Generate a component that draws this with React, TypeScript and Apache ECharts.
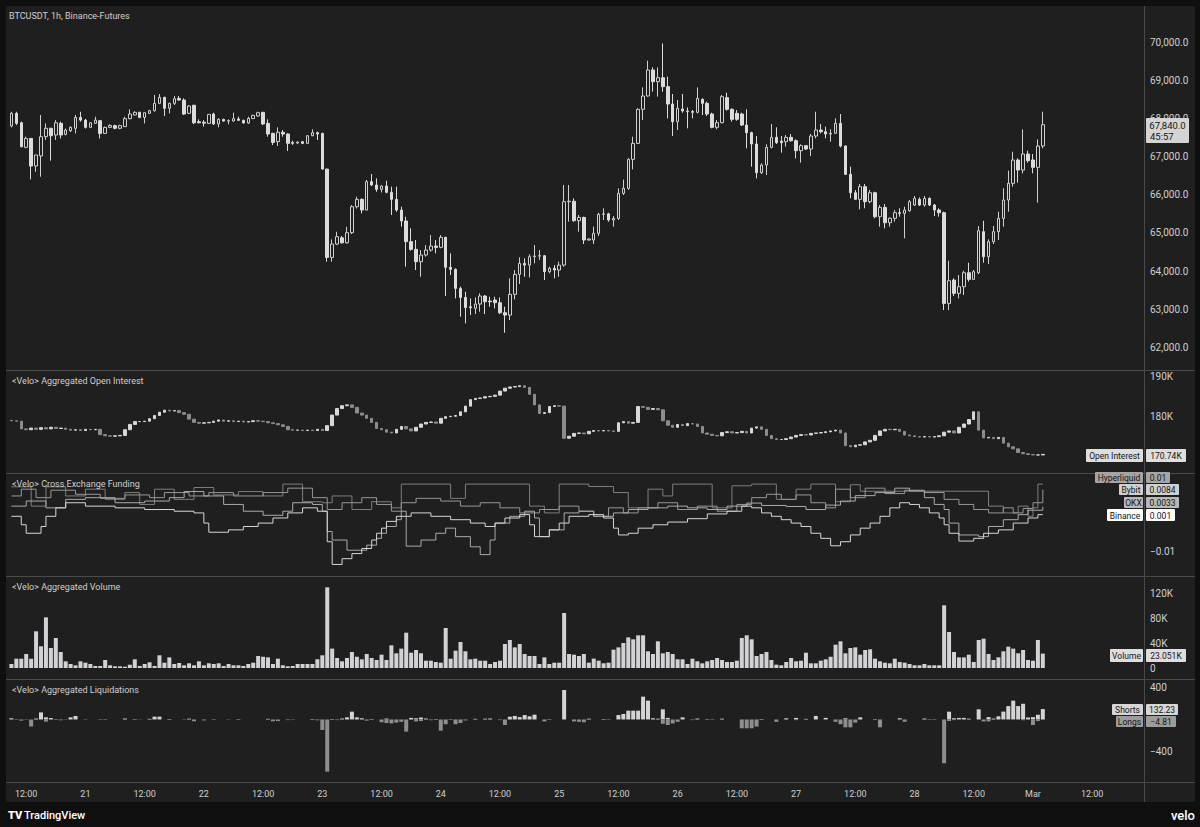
import React, { useEffect, useRef } from "react";
import * as echarts from "echarts";

// ---------- time slots (category 0 = Feb 20 08:00 UTC, 1 hour each) ----------
const START_UTC = Date.UTC(2026, 1, 20, 8, 0);
const SLOT_COUNT = 231;
const MONTHS = ["Jan", "Feb", "Mar", "Apr", "May", "Jun", "Jul", "Aug", "Sep", "Oct", "Nov", "Dec"];

// ---------- price candles, slot 1..210: [open, close, low, high] ----------
const priceOHLC = [
  [67805, 68138, 67770, 68180], [68138, 67875, 67830, 68180], [67890, 67262, 67245, 67920], [67245, 67480, 67220, 67525],
  [67480, 66755, 66405, 67480], [66755, 67045, 66605, 67045], [67020, 67525, 66475, 68095], [67525, 67745, 67440, 67875],
  [67745, 67550, 66895, 67760], [67570, 67890, 67440, 67960], [67875, 67570, 67480, 67920], [67585, 67700, 67560, 67740],
  [67680, 67770, 67650, 67800], [67745, 68030, 67610, 68095], [68030, 67960, 67920, 68180], [67960, 67770, 67740, 67990],
  [67770, 67890, 67760, 67910], [67875, 67960, 67860, 68050], [67945, 67612, 67480, 67960], [67612, 67770, 67600, 67790],
  [67770, 67820, 67750, 67850], [67815, 67745, 67720, 67840], [67745, 67815, 67720, 67840], [67790, 67998, 67790, 68050],
  [67998, 68120, 67980, 68240], [68095, 68165, 68080, 68190], [68165, 68030, 68010, 68180], [68030, 68155, 67875, 68160],
  [68137, 68208, 68120, 68230], [68208, 68400, 68180, 68620], [68400, 68557, 68380, 68645], [68557, 68270, 68068, 68575],
  [68270, 68400, 68137, 68420], [68400, 68522, 68356, 68592], [68530, 68487, 68470, 68592], [68487, 68120, 68095, 68530],
  [68137, 68330, 68120, 68356], [68350, 67890, 67855, 68360], [67920, 67890, 67875, 67980], [67905, 67880, 67790, 67960],
  [67875, 68110, 67860, 68120], [68120, 67860, 67830, 68155], [67860, 67980, 67770, 68010], [67980, 67935, 67920, 67995],
  [67935, 67945, 67850, 67980], [67935, 67998, 67920, 68155], [67990, 67955, 67945, 68050], [67955, 67885, 67870, 67970],
  [67885, 68005, 67860, 68050], [68000, 68085, 67990, 68100], [68070, 68155, 68050, 68180], [68165, 67860, 67830, 68175],
  [67875, 67595, 67525, 67980], [67612, 67375, 67305, 67630], [67395, 67640, 67280, 67770], [67640, 67595, 67525, 67700],
  [67595, 67350, 67150, 67612], [67375, 67350, 67310, 67420], [67360, 67385, 67330, 67400], [67395, 67350, 67330, 67410],
  [67350, 67550, 67340, 67560], [67550, 67630, 67540, 67720], [67630, 67595, 67440, 67660], [67612, 66676, 66660, 67630],
  [66676, 64357, 64244, 66680], [64357, 64707, 64244, 64830], [64707, 64900, 64680, 65030], [64870, 64740, 64720, 64920],
  [64740, 65005, 64720, 65160], [65005, 65688, 64970, 65730], [65688, 65880, 65640, 65950], [65880, 65600, 65513, 65906],
  [65600, 66345, 65590, 66388], [66345, 66257, 66230, 66545], [66257, 66143, 66080, 66432], [66143, 66230, 66060, 66250],
  [66230, 66065, 66038, 66370], [66065, 65880, 65470, 66213], [65880, 65600, 65556, 66213], [65600, 65312, 65163, 65688],
  [65312, 64770, 64113, 65425], [64770, 64568, 64533, 65119], [64568, 64244, 64025, 64813], [64244, 64420, 63850, 64550],
  [64420, 64550, 64376, 64680], [64550, 64655, 64507, 64943], [64655, 64620, 64463, 64813], [64620, 64883, 64595, 64943],
  [64883, 64096, 63343, 64900], [64096, 64043, 63894, 64463], [64043, 63544, 63282, 64070], [63544, 63308, 62800, 63590],
  [63308, 63037, 62625, 63457], [63063, 63037, 62844, 63282], [63020, 63133, 62870, 63308], [63133, 63343, 62932, 63413],
  [63343, 63194, 62870, 63370], [63212, 63194, 63063, 63325], [63238, 63168, 63020, 63325], [63168, 62905, 62870, 63308],
  [62905, 62844, 62380, 63063], [62844, 63387, 62713, 63807], [63387, 63912, 63255, 64025], [63912, 64200, 63657, 64358],
  [64200, 64156, 63850, 64332], [64156, 64376, 63833, 64437], [64376, 64393, 64200, 64682], [64393, 64402, 64288, 64550],
  [64402, 63983, 63763, 64420], [63983, 64070, 63938, 64113], [64070, 64025, 63807, 64156], [64025, 64156, 63850, 64244],
  [64156, 65819, 64113, 66257], [65819, 65830, 65294, 66257], [65830, 65320, 65294, 65906], [65320, 65407, 65032, 65470],
  [65407, 64813, 64708, 65425], [64813, 64840, 64800, 64860], [64813, 64988, 64708, 65163], [64988, 65487, 64918, 65530],
  [65487, 65500, 65338, 65645], [65500, 65338, 65294, 65530], [65338, 65380, 65163, 65443], [65380, 66038, 65338, 66170],
  [66038, 66170, 65995, 66400], [66170, 66930, 66130, 66960], [66930, 67350, 66668, 67525], [67350, 68243, 67333, 68270],
  [68243, 68593, 67963, 68820], [68593, 69275, 68575, 69520], [69275, 68969, 68706, 69345], [68969, 69074, 68575, 69345],
  [69074, 68838, 68706, 69975], [68838, 68383, 68006, 69100], [68383, 67919, 67543, 68646], [67919, 68269, 67700, 68488],
  [68250, 68200, 68155, 68646], [68200, 68183, 67744, 68295], [68183, 68165, 68006, 68225], [68165, 68531, 68138, 68820],
  [68506, 68400, 68094, 68531], [68400, 68120, 68068, 68444], [68120, 67770, 67744, 68155], [67770, 67893, 67718, 67963],
  [67893, 68575, 67875, 68619], [68550, 68243, 68208, 68680], [68243, 67980, 67920, 68270], [68138, 67980, 67945, 68225],
  [68120, 67831, 67805, 68155], [67831, 67630, 67220, 68243], [67630, 67333, 66738, 67656], [67333, 66580, 66432, 67543],
  [66580, 66782, 66545, 66826], [66782, 67245, 66519, 67324], [67245, 67508, 67220, 67858], [67508, 67368, 67333, 67770],
  [67411, 67368, 67105, 67543], [67394, 67508, 67263, 67569], [67508, 67420, 67394, 67595], [67420, 67158, 66957, 67455],
  [67158, 67289, 66843, 67324], [67289, 67202, 67175, 67306], [67202, 67543, 67018, 67595], [67543, 67700, 67482, 68181],
  [67700, 67656, 67613, 67858], [67656, 67595, 67482, 67788], [67595, 67613, 67394, 67718], [67613, 67875, 67595, 68006],
  [67875, 67280, 67245, 68120], [67280, 66537, 66519, 67300], [66537, 66055, 65907, 66738], [66055, 65880, 65863, 66125],
  [65880, 66213, 65618, 66283], [66213, 65820, 65645, 66283], [65820, 66055, 65775, 66125], [66055, 65425, 65383, 66080],
  [65425, 65670, 65163, 65732], [65670, 65268, 65120, 65758], [65268, 65383, 65163, 65408], [65383, 65530, 65294, 65600],
  [65530, 65513, 65425, 65645], [65513, 65600, 64857, 65688], [65583, 65819, 65556, 65863], [65732, 65907, 65705, 65968],
  [65880, 65732, 65705, 65933], [65732, 65907, 65688, 65968], [65907, 65732, 65705, 65933], [65732, 65600, 65443, 65758],
  [65600, 65530, 65425, 65645], [65530, 63150, 62975, 65557], [63150, 63745, 62975, 64270], [63763, 63413, 63343, 63807],
  [63413, 63588, 63282, 63894], [63588, 63955, 63370, 64008], [63955, 63780, 63720, 64218], [63780, 63982, 63763, 64025],
  [63955, 65058, 63920, 65180], [65032, 64375, 64218, 65320], [64375, 64769, 64183, 64830], [64769, 65032, 64708, 65180],
  [65032, 65381, 64813, 65557], [65381, 65863, 65163, 66170], [65863, 66300, 65557, 66633], [66300, 66913, 66213, 67131],
  [66913, 66650, 66318, 66957], [66650, 67070, 66563, 67718], [67070, 66895, 66843, 67158], [66913, 66720, 66563, 67070],
  [66720, 67280, 65793, 67455], [67280, 67840, 67219, 68181],
];

// ---------- aggregated open interest (K), close per slot 1..210 ----------
const oiClose = [
  179.0, 178.9, 177.0, 176.8, 177.2, 176.9, 177.3, 177.0, 177.4, 177.1,
  177.2, 176.9, 176.7, 176.8, 176.6, 176.9, 176.8, 176.9, 175.6, 175.3,
  175.2, 175.3, 175.4, 176.8, 178.1, 178.8, 178.8, 178.9, 179.5, 180.3,
  181.1, 181.6, 181.4, 181.5, 181.0, 180.6, 179.4, 178.6, 178.4, 178.5,
  178.6, 178.9, 179.2, 178.9, 179.0, 178.8, 178.9, 178.7, 178.8, 179.0,
  178.9, 178.8, 178.5, 178.3, 178.0, 177.6, 176.8, 176.7, 176.7, 176.6,
  176.7, 176.6, 176.9, 176.6, 177.8, 180.4, 182.0, 182.7, 182.9, 182.3,
  180.9, 180.4, 179.6, 178.6, 177.1, 176.8, 176.2, 176.0, 176.9, 177.6,
  177.0, 176.5, 177.4, 178.2, 178.6, 178.7, 178.4, 179.6, 180.0, 180.1,
  180.3, 181.2, 182.6, 184.2, 184.5, 184.6, 184.9, 185.0, 185.3, 186.3,
  187.0, 187.3, 187.4, 187.6, 187.2, 185.5, 182.9, 180.8, 181.0, 182.5,
  182.7, 182.6, 174.7, 175.2, 175.9, 176.0, 175.8, 176.4, 176.6, 176.5,
  176.6, 176.5, 176.4, 178.5, 178.8, 178.4, 178.6, 182.5, 182.3, 181.8,
  182.0, 181.7, 179.0, 177.9, 177.4, 178.1, 177.8, 178.3, 178.2, 177.6,
  176.0, 175.7, 175.4, 175.3, 176.1, 176.3, 176.0, 176.1, 176.4, 176.0,
  177.2, 177.5, 176.9, 175.4, 174.6, 174.4, 174.4, 174.6, 175.0, 175.4,
  175.6, 175.5, 175.9, 176.0, 176.1, 176.3, 176.5, 176.7, 176.0, 172.9,
  172.6, 173.0, 173.1, 173.8, 174.2, 175.4, 176.5, 176.9, 176.8, 176.9,
  176.4, 175.5, 175.3, 175.1, 175.0, 175.1, 175.0, 175.1, 175.3, 176.2,
  176.5, 176.0, 177.4, 178.2, 179.3, 181.2, 176.7, 174.8, 174.9, 174.6,
  174.9, 173.5, 172.6, 172.1, 171.2, 170.9, 170.7, 170.6, 170.6, 170.74,
];
const oiFirstOpen = 179.1;

// ---------- aggregated volume (K), slot 1..210 ----------
const volumeK = [
  6.4, 14.9, 14.9, 22.4, 14.9, 58.7, 34.7, 81, 32, 48,
  25.6, 10.7, 6.4, 4.3, 10.7, 8.5, 6.4, 3.2, 3.2, 12.8,
  4.3, 2.7, 2.7, 2.1, 5.3, 13.9, 3.2, 6.4, 9.1, 3.2,
  20.3, 8.5, 17, 6.4, 8, 4.3, 7.5, 4.3, 10.7, 4.3,
  7.5, 6.4, 7.5, 3.2, 6.4, 4.3, 4.3, 3.2, 6.4, 8.5,
  19.2, 18, 17, 6.4, 14.9, 4.3, 2.7, 3.2, 6.4, 6.4,
  6.4, 6.4, 14, 20.3, 129, 31, 16, 10.7, 16, 25.6,
  18, 13.9, 22.4, 16, 12.8, 21.3, 12.8, 36.3, 23.5, 31,
  56.5, 24.5, 28.8, 23.5, 11.7, 11.7, 9.6, 8.5, 64, 14.9,
  27.7, 41.6, 26.7, 13.9, 14.9, 11.7, 11.7, 6.4, 9.6, 11.7,
  38.4, 44.8, 33, 38.4, 22.4, 19.2, 19.2, 6.4, 17, 6.4,
  8.5, 8.5, 88, 22.4, 21.3, 19.2, 22.4, 8.5, 15, 11.7,
  7.5, 8.5, 29.3, 33, 40, 49, 45.9, 52.3, 52.3, 26.7,
  22.4, 42.7, 23.5, 25.6, 22.4, 13.9, 13.9, 6.4, 14.9, 10.7,
  7.5, 10.7, 12.8, 16, 12.8, 9.6, 9.6, 11.7, 48, 52.3,
  45.9, 19.2, 22.4, 25.6, 12.8, 5.3, 4.3, 9.6, 16, 10.7,
  11.7, 24.5, 7.5, 7.5, 11.7, 13.9, 18, 37.3, 42.7, 23.5,
  32, 33, 21.3, 28.8, 29.9, 14.9, 10.7, 8.5, 7.5, 14.9,
  9.6, 8.5, 6.4, 4.3, 4.3, 6.4, 4.3, 4.3, 4.3, 100.3,
  57.6, 25.6, 17, 17, 21.3, 9.6, 44.8, 46.9, 22.4, 12.8,
  17, 26.7, 34.1, 31, 23.5, 28.8, 12.8, 11.7, 44.8, 23.051,
];

// ---------- aggregated liquidations (BTC): [slot, value] ----------
const shortsLiq = [
  [1, 15], [2, 4], [4, 3], [6, 12], [7, 90], [8, 27], [9, 18], [10, 5], [13, 27], [14, 44], [16, 3], [20, 4], [24, 12],
  [26, 5], [29, 8], [30, 36], [31, 36], [33, 6], [37, 10], [42, 4], [47, 5], [53, 8], [58, 3], [62, 6], [66, 6], [68, 12],
  [69, 27], [70, 99], [71, 27], [72, 15], [74, 6], [77, 12], [82, 20], [83, 15], [84, 25], [85, 12], [87, 6], [90, 5],
  [95, 8], [97, 10], [98, 12], [102, 35], [103, 45], [104, 30], [105, 56], [106, 40], [107, 61], [110, 5], [113, 374],
  [118, 10], [121, 6], [124, 56], [125, 70], [126, 112], [127, 112], [128, 112], [129, 290], [130, 239], [131, 15],
  [132, 10], [133, 129], [134, 20], [137, 27], [140, 12], [142, 5], [145, 10], [153, 6], [158, 15], [160, 20], [162, 8],
  [164, 44], [166, 20], [170, 15], [173, 27], [176, 6], [181, 15], [186, 12], [188, 4], [191, 99], [192, 15], [193, 20],
  [194, 20], [195, 10], [197, 129], [199, 30], [200, 12], [201, 40], [202, 100], [203, 170], [204, 239], [205, 170],
  [206, 200], [207, 25], [208, 30], [209, 60], [210, 132.23],
];
const longsLiq = [
  [3, -15], [5, -90], [8, -27], [11, -10], [12, -4], [19, -6], [27, -3], [36, -5], [38, -23], [40, -12], [45, -4],
  [54, -23], [55, -20], [57, -8], [63, -10], [64, -133], [65, -662], [67, -8], [73, -15], [76, -35], [77, -45], [78, -50],
  [79, -40], [80, -30], [81, -154], [83, -25], [84, -20], [86, -10], [88, -142], [89, -60], [91, -60], [92, -45], [93, -12],
  [100, -8], [101, -70], [109, -25], [115, -25], [116, -30], [117, -35], [122, -6], [133, -55], [134, -70], [135, -50],
  [136, -30], [139, -8], [143, -6], [149, -112], [150, -112], [151, -112], [152, -90], [156, -30], [160, -8], [168, -30],
  [169, -60], [170, -100], [171, -100], [172, -40], [177, -100], [182, -30], [187, -6], [190, -556], [191, -20], [192, -8],
  [198, -25], [199, -25], [206, -10], [208, -70], [209, -20], [210, -4.81],
];

// ---------- cross exchange funding: [slot, rate] change points ----------
const fundingBinance = [
  [1, 0.0005], [3, -0.002], [4, -0.0045], [7, -0.0025], [8, 0.0005], [10, 0.003], [12, 0.0045], [16, 0.0035], [22, 0.003],
  [28, 0.0025], [34, 0.002], [38, 0.0015], [40, -0.0015], [41, -0.0042], [45, -0.0035], [48, -0.0025], [51, -0.0015],
  [54, 0], [57, 0.0015], [60, 0.003], [63, 0.002], [65, -0.007], [66, -0.0137], [68, -0.012], [70, -0.0105], [72, -0.009],
  [74, -0.0065], [75, -0.0045], [76, -0.003], [77, -0.001], [79, 0.0005], [82, 0.0015], [86, 0.0005], [90, -0.0005],
  [94, -0.0015], [97, -0.0025], [99, -0.0015], [101, 0], [104, 0.001], [106, -0.002], [107, -0.0055], [110, -0.0035],
  [112, -0.0015], [114, 0.0005], [118, 0.001], [121, 0], [123, -0.003], [124, -0.005], [126, -0.0045], [128, -0.003],
  [131, -0.002], [134, -0.0012], [138, -0.0002], [142, 0.0012], [146, 0.002], [149, 0.0035], [151, 0.003], [153, 0.0015],
  [155, 0.0005], [157, -0.0005], [159, -0.0015], [161, -0.0025], [163, -0.0045], [165, -0.006], [167, -0.0082],
  [169, -0.007], [171, -0.005], [173, -0.003], [175, -0.0015], [177, 0.0005], [179, 0.003], [181, 0.0045], [183, 0.004],
  [185, 0.003], [187, 0.0015], [189, 0], [190, -0.002], [191, -0.0045], [193, -0.0068], [196, -0.006], [198, -0.0045],
  [201, -0.0035], [204, -0.0015], [207, 0], [209, 0.001], [210, 0.001],
];
const fundingOKX = [
  [1, 0.0035], [4, 0.005], [8, 0.003], [12, 0.0055], [16, 0.006], [22, 0.0045], [28, 0.005], [33, 0.006], [36, 0.0078],
  [40, 0.0065], [44, 0.004], [48, 0.002], [52, 0.0008], [56, 0.002], [58, 0.0045], [62, 0.004], [64, 0.002], [65, -0.004],
  [66, -0.0065], [69, -0.0095], [73, -0.008], [75, -0.006], [76, -0.0045], [77, -0.0025], [79, -0.0005], [80, 0.002],
  [81, -0.0083], [84, -0.0065], [87, -0.0045], [89, -0.003], [91, -0.0055], [94, -0.0085], [96, -0.0108], [98, -0.0065],
  [99, -0.0015], [102, 0.0005], [105, 0.002], [107, 0], [108, -0.0055], [110, -0.0035], [113, 0.0015], [116, 0.002],
  [119, 0.0005], [123, 0.0015], [126, 0.0025], [130, 0.003], [134, 0.0035], [138, 0.003], [142, 0.0025], [146, 0.0035],
  [150, 0.0044], [153, 0.0037], [158, 0.0034], [162, 0.0025], [166, 0.0038], [169, 0.005], [172, 0.0066], [176, 0.0075],
  [180, 0.0088], [183, 0.008], [186, 0.006], [188, 0.004], [190, 0.0025], [191, -0.0015], [193, -0.005], [197, -0.0055],
  [199, -0.0025], [202, -0.0005], [205, 0.001], [207, 0.0023], [210, 0.0033],
];
const fundingBybit = [
  [1, 0.0065], [3, 0.0085], [6, 0.006], [9, 0.0082], [14, 0.007], [19, 0.0058], [24, 0.0068], [29, 0.006], [32, 0.0075],
  [37, 0.0065], [41, 0.0075], [46, 0.0065], [52, 0.0075], [57, 0.0088], [62, 0.006], [65, 0.0025], [68, 0.0045],
  [72, 0.006], [75, 0.004], [78, 0.002], [80, 0.0045], [83, 0.0058], [88, 0.005], [92, 0.0035], [96, 0.0045], [100, 0.003],
  [104, 0.0015], [108, 0.0025], [112, 0.0035], [116, 0.002], [119, 0.0005], [122, 0.003], [125, 0.0015], [128, 0.003],
  [132, 0.0045], [136, 0.0025], [140, 0.0035], [144, 0.002], [148, 0.004], [151, 0.006], [154, 0.007], [157, 0.0055],
  [160, 0.0068], [163, 0.0045], [166, 0.003], [168, 0.0085], [171, 0.006], [174, 0.0088], [178, 0.0072], [182, 0.0082],
  [186, 0.0075], [190, 0.0055], [193, 0.004], [196, 0.0025], [199, 0.0015], [202, 0.003], [204, 0.0015], [206, 0.0028],
  [208, 0.0045], [210, 0.0084],
];
const fundingHyperliquid = [
  [1, 0.0092], [5, 0.0035], [8, 0.0092], [12, 0.0065], [16, 0.0085], [20, 0.0055], [24, 0.0075], [27, 0.004], [30, 0.0085],
  [34, 0.0055], [38, 0.009], [42, 0.0068], [47, 0.0078], [52, 0.0065], [56, 0.01], [60, 0.0048], [64, 0.0045], [66, 0.0065],
  [70, 0.0025], [74, 0.0048], [78, 0.003], [80, 0.01], [90, 0.0058], [93, 0.01], [106, 0.0035], [109, 0.0015], [112, 0.01],
  [118, 0.0093], [123, 0.0075], [126, 0.003], [130, 0.0085], [133, 0.0065], [135, 0.01], [143, 0.003], [147, 0.0095],
  [151, 0.01], [156, 0.0055], [160, 0.0085], [163, 0.01], [168, 0.0048], [171, 0.0098], [173, 0.0079], [199, 0.0035],
  [202, 0.0015], [205, 0.0035], [207, 0.0005], [208, 0.003], [209, 0.01], [210, 0.01],
];

// ---------- tick labels ----------
const priceTicks = [62000, 63000, 64000, 65000, 66000, 67000, 68000, 69000, 70000];
const oiTicks = [180, 190];
const fundingTicks = [-0.01];
const volumeTicks = [0, 40, 80, 120];
const liqTicks = [-400, 400];

const FONT = "Roboto, 'Liberation Sans', sans-serif";
const TXT = "#cfcfcf";

function slotTime(k: number) {
  return new Date(START_UTC + k * 3600000);
}

export default function App() {
  const ref = useRef<HTMLDivElement>(null);

  useEffect(() => {
    if (!ref.current) return;
    const chart = echarts.init(ref.current, undefined, { renderer: "svg" });

    const categories = Array.from({ length: SLOT_COUNT }, (_, k) => {
      const d = slotTime(k);
      return `${d.getUTCMonth() + 1}/${d.getUTCDate()} ${d.getUTCHours()}:00`;
    });

    const priceData = priceOHLC.map((c, k) => [k + 1, c[0], c[1], c[2], c[3]]);
    const oiData = oiClose.map((c, k) => {
      const o = k === 0 ? oiFirstOpen : oiClose[k - 1];
      return [k + 1, o, c, Math.min(o, c), Math.max(o, c)];
    });
    const volData = volumeK.map((v, k) => [k + 1, v]);

    const gridL = 4;
    const gridW = 1140;
    const grids = [
      { left: gridL, width: gridW, top: 6, height: 364 },
      { left: gridL, width: gridW, top: 371, height: 101 },
      { left: gridL, width: gridW, top: 474, height: 102 },
      { left: gridL, width: gridW, top: 577, height: 102 },
      { left: gridL, width: gridW, top: 680, height: 103 },
    ];

    const xAxes = grids.map((_, gi) => ({
      type: "category",
      gridIndex: gi,
      data: categories,
      boundaryGap: true,
      axisLine: { show: false },
      axisTick: { show: false },
      splitLine: { show: false },
      axisLabel:
        gi === 4
          ? {
              show: true,
              color: TXT,
              fontSize: 9,
              fontFamily: FONT,
              margin: 6,
              interval: (index: number) => slotTime(index).getUTCHours() % 12 === 0,
              formatter: (_v: string, index: number) => {
                const d = slotTime(index);
                if (d.getUTCHours() === 12) return "12:00";
                return d.getUTCDate() === 1 ? MONTHS[d.getUTCMonth()] : String(d.getUTCDate());
              },
            }
          : { show: false },
    }));

    const yAx = (gi: number, min: number, max: number, ticks: number[], fmt: (v: number) => string) => ({
      type: "value",
      gridIndex: gi,
      position: "right",
      min,
      max,
      axisLine: { show: false },
      axisTick: { show: false },
      splitLine: { show: false },
      axisLabel: {
        show: true,
        customValues: ticks,
        formatter: fmt,
        color: TXT,
        fontSize: 10,
        fontFamily: FONT,
        margin: 6,
      },
    });

    const yAxes = [
      yAx(0, 61402, 70955, priceTicks, (v) =>
        v.toLocaleString("en-US", { minimumFractionDigits: 1, maximumFractionDigits: 1 })
      ),
      yAx(1, 166.41, 191.23, oiTicks, (v) => `${Math.round(v)}K`),
      yAx(2, -0.01711, 0.01298, fundingTicks, (v) => String(+v.toFixed(4)).replace("-", "\u2212")),
      yAx(3, -17.6, 145.6, volumeTicks, (v) => (v === 0 ? "0" : `${Math.round(v)}K`)),
      yAx(4, -806, 501, liqTicks, (v) => String(Math.round(v)).replace("-", "\u2212")),
    ];

    const fundingLine = (name: string, data: number[][], color: string) => ({
      name,
      type: "line",
      xAxisIndex: 2,
      yAxisIndex: 2,
      data,
      step: "end",
      showSymbol: false,
      symbol: "none",
      lineStyle: { color, width: 1 },
      silent: true,
      z: 3,
    });

    const label = (text: string, x: number, y: number, size = 9) => ({
      type: "text",
      x,
      y,
      z: 50,
      style: { text, fill: TXT, font: `${size}px ${FONT}`, align: "left", verticalAlign: "middle" },
    });

    const box = (x: number, y: number, w: number, h: number, text: string, fill: string, color = "#141414") => ({
      type: "group",
      z: 60,
      children: [
        { type: "rect", z: 60, shape: { x, y, width: w, height: h, r: 1 }, style: { fill } },
        {
          type: "text",
          z: 61,
          x: x + w / 2,
          y: y + h / 2 + 0.5,
          style: { text, fill: color, font: `8.5px ${FONT}`, align: "center", verticalAlign: "middle" },
        },
      ],
    });

    const hline = (y: number) => ({
      type: "line",
      z: 40,
      shape: { x1: 6, y1: y, x2: 1195, y2: y },
      style: { stroke: "#4a4a4a", lineWidth: 1 },
    });

    const FRAME = "#0f0f0f";

    const option: any = {
      animation: false,
      backgroundColor: "#1f1f1f",
      grid: grids,
      xAxis: xAxes,
      yAxis: yAxes,
      series: [
        {
          name: "Price",
          type: "candlestick",
          xAxisIndex: 0,
          yAxisIndex: 0,
          data: priceData,
          encode: { x: 0, y: [1, 2, 3, 4] },
          barWidth: 3,
          silent: true,
          itemStyle: {
            color: "#1f1f1f",
            color0: "#dcdcdc",
            borderColor: "#cfcfcf",
            borderColor0: "#dcdcdc",
            borderWidth: 1,
          },
        },
        {
          name: "Open Interest",
          type: "candlestick",
          xAxisIndex: 1,
          yAxisIndex: 1,
          data: oiData,
          encode: { x: 0, y: [1, 2, 3, 4] },
          barWidth: 3,
          silent: true,
          itemStyle: {
            color: "#d8d8d8",
            color0: "#8c8c8c",
            borderColor: "#d8d8d8",
            borderColor0: "#8c8c8c",
            borderWidth: 1,
          },
        },
        fundingLine("Hyperliquid", fundingHyperliquid, "#7e7e7e"),
        fundingLine("Bybit", fundingBybit, "#979797"),
        fundingLine("OKX", fundingOKX, "#aaaaaa"),
        fundingLine("Binance", fundingBinance, "#d6d6d6"),
        {
          name: "Volume",
          type: "bar",
          xAxisIndex: 3,
          yAxisIndex: 3,
          data: volData,
          barWidth: 4,
          silent: true,
          itemStyle: { color: "#d2d2d6" },
        },
        {
          name: "Shorts",
          type: "bar",
          xAxisIndex: 4,
          yAxisIndex: 4,
          data: shortsLiq,
          barWidth: 4,
          barGap: "-100%",
          silent: true,
          itemStyle: { color: "#d4d4d4" },
        },
        {
          name: "Longs",
          type: "bar",
          xAxisIndex: 4,
          yAxisIndex: 4,
          data: longsLiq,
          barWidth: 4,
          barGap: "-100%",
          silent: true,
          itemStyle: { color: "#8e8e8e" },
        },
      ],
      graphic: [
        // outer frame
        { type: "rect", z: 30, shape: { x: 0, y: 0, width: 1200, height: 6 }, style: { fill: FRAME } },
        { type: "rect", z: 30, shape: { x: 0, y: 0, width: 6, height: 827 }, style: { fill: FRAME } },
        { type: "rect", z: 30, shape: { x: 1195, y: 0, width: 5, height: 827 }, style: { fill: FRAME } },
        { type: "rect", z: 30, shape: { x: 0, y: 802, width: 1200, height: 25 }, style: { fill: FRAME } },
        // pane separators
        hline(370.5),
        hline(473.5),
        hline(576.5),
        hline(679.5),
        hline(782.5),
        {
          type: "line",
          z: 40,
          shape: { x1: 1144.5, y1: 6, x2: 1144.5, y2: 802 },
          style: { stroke: "#4a4a4a", lineWidth: 1 },
        },
        // titles
        label("BTCUSDT, 1h, Binance-Futures", 9, 16),
        label("<Velo> Aggregated Open Interest", 12, 381),
        label("<Velo> Cross Exchange Funding", 12, 484),
        label("<Velo> Aggregated Volume", 12, 587),
        label("<Velo> Aggregated Liquidations", 12, 690),
        // last price box
        {
          type: "group",
          z: 60,
          children: [
            { type: "rect", z: 60, shape: { x: 1146, y: 118, width: 43, height: 25, r: 1 }, style: { fill: "#d4d4d4" } },
            {
              type: "text",
              z: 61,
              x: 1167.5,
              y: 125,
              style: { text: "67,840.0", fill: "#141414", font: `9.5px ${FONT}`, align: "center", verticalAlign: "middle" },
            },
            {
              type: "text",
              z: 61,
              x: 1150,
              y: 136.5,
              style: { text: "45:57", fill: "#141414", font: `9.5px ${FONT}`, align: "left", verticalAlign: "middle" },
            },
          ],
        },
        // value boxes
        box(1086, 449, 57, 13, "Open Interest", "#dedede"),
        box(1146, 449, 40, 13, "170.74K", "#dedede"),
        box(1095, 472, 48, 11, "Hyperliquid", "#a5a5a5"),
        box(1146, 472, 24, 11, "0.01", "#a5a5a5"),
        box(1119, 484, 24, 11, "Bybit", "#d0d0d0"),
        box(1146, 484, 33, 11, "0.0084", "#d0d0d0"),
        box(1124, 497, 19, 11, "OKX", "#b8b8b8"),
        box(1146, 497, 33, 11, "0.0033", "#b8b8b8"),
        box(1107, 509, 36, 12, "Binance", "#ffffff"),
        box(1146, 509, 29, 12, "0.001", "#ffffff"),
        box(1110, 649, 33, 13, "Volume", "#dedede"),
        box(1146, 649, 40, 13, "23.051K", "#dedede"),
        box(1112, 704, 31, 11, "Shorts", "#d6d6d6"),
        box(1146, 704, 32, 11, "132.23", "#d6d6d6"),
        box(1116, 716, 27, 11, "Longs", "#9c9c9c"),
        box(1146, 716, 30, 11, "\u22124.81", "#9c9c9c"),
        // footer
        {
          type: "text",
          z: 61,
          x: 8,
          y: 815,
          style: { text: "TV", fill: "#ffffff", font: `900 11px ${FONT}`, align: "left", verticalAlign: "middle" },
        },
        {
          type: "text",
          z: 61,
          x: 24,
          y: 815,
          style: { text: "TradingView", fill: "#ffffff", font: `500 11px ${FONT}`, align: "left", verticalAlign: "middle" },
        },
        {
          type: "text",
          z: 61,
          x: 1195,
          y: 815,
          style: { text: "velo", fill: "#ffffff", font: `500 13px ${FONT}`, align: "right", verticalAlign: "middle" },
        },
      ],
    };

    chart.setOption(option);
    return () => chart.dispose();
  }, []);

  return (
    <div
      ref={ref}
      style={{ position: "absolute", left: 0, top: 0, width: 1200, height: 827, background: "#0f0f0f" }}
    />
  );
}
